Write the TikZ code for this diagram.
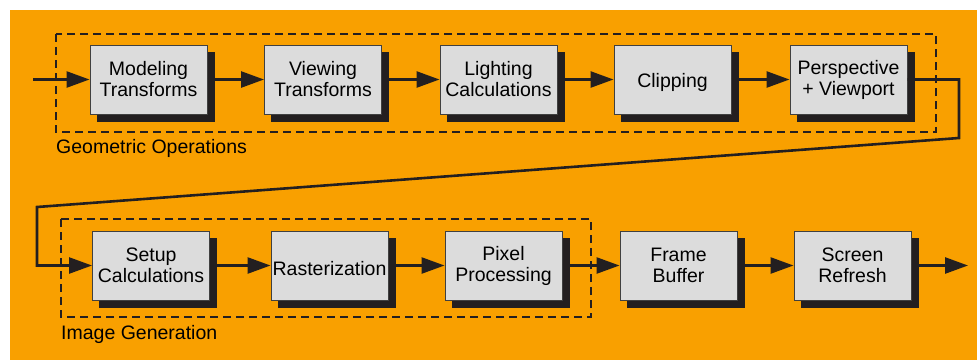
\documentclass[tikz,border=0pt]{standalone}
\usepackage{fontspec}
\setmainfont{Liberation Sans}
\usetikzlibrary{arrows.meta,shadows}
\definecolor{bgorange}{HTML}{F9A000}
\definecolor{boxgray}{HTML}{DCDCDC}
\definecolor{shadowdark}{HTML}{231F20}
\begin{document}
\begin{tikzpicture}[x=1pt,y=-1pt,
  stage/.style={draw=black!75, line width=1pt, fill=boxgray, minimum width=117pt, minimum height=69pt,
    inner sep=0pt, align=center, font=\fontsize{19.5}{21}\selectfont,
    execute at begin node={\rule{0pt}{19.5pt}},
    general shadow={shadow xshift=7pt, shadow yshift=-7.5pt, fill=shadowdark, draw=shadowdark, opacity=1, fill opacity=1}},
  flow/.style={line width=2.6pt, draw=shadowdark, -{Triangle[length=23pt,width=16pt]}},
  group/.style={draw=shadowdark, line width=2pt, dash pattern=on 8pt off 5pt},
  grouplabel/.style={anchor=west, inner sep=0pt, font=\fontsize{19.5}{21.5}\selectfont}]
\useasboundingbox (0,0) rectangle (977,360);
\fill[bgorange] (10,10) rectangle (977,360);
% group frames
\draw[group] (56,34) rectangle (936,132);
\draw[group] (61,219) rectangle (591,317);
\node[grouplabel] (geolab) at (56,148) {Geometric Operations};
\node[grouplabel] (imglab) at (61,334) {Image Generation};
% top row
\node[stage] (model) at (148.5,79.5) {Modeling\\Transforms};
\node[stage] (view) at (323,79.5) {Viewing\\Transforms};
\node[stage] (light) at (498.5,79.5) {Lighting\\Calculations};
\node[stage] (clip) at (672.5,79.5) {Clipping};
\node[stage] (persp) at (848.5,79.5) {Perspective\\+ Viewport};
% bottom row
\node[stage] (setup) at (151,265.5) {Setup\\Calculations};
\node[stage] (raster) at (329.5,265.5) {Rasterization};
\node[stage] (pixel) at (503.5,265.5) {Pixel\\Processing};
\node[stage] (frame) at (678.5,265.5) {Frame\\Buffer};
\node[stage] (screen) at (852.5,265.5) {Screen\\Refresh};
% connectors
\coordinate (in) at (33,79.5);
\coordinate (out) at (968,265.5);
\draw[flow] (in) -- (model);
\draw[flow] (model) -- (view);
\draw[flow] (view) -- (light);
\draw[flow] (light) -- (clip);
\draw[flow] (clip) -- (persp);
\draw[flow] (persp.east) -- (959,79.5) -- (959,138) -- (37,207) -- (37,265.5) -- (setup.west);
\draw[flow] (setup) -- (raster);
\draw[flow] (raster) -- (pixel);
\draw[flow] (pixel) -- (frame);
\draw[flow] (frame) -- (screen);
\draw[flow] (screen) -- (out);
\end{tikzpicture}
\end{document}
